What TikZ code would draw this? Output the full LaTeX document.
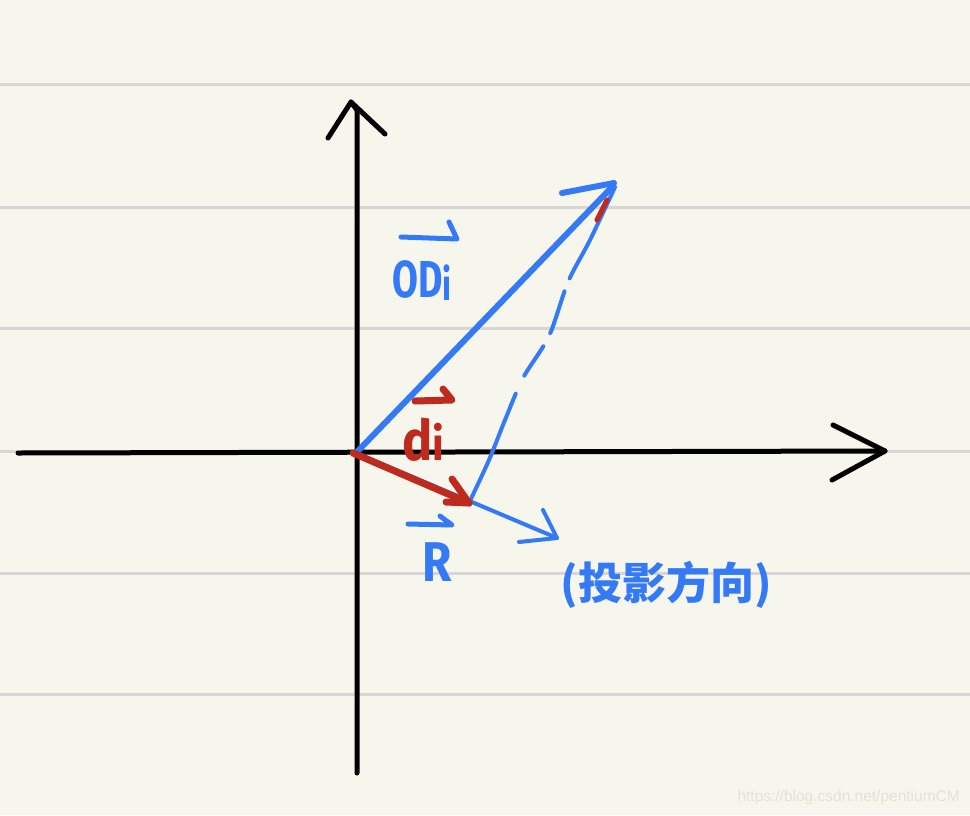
\documentclass[tikz,border=0pt]{standalone}
\usepackage{fontspec}
\setmainfont{Fira Sans}
\newfontfamily\cjk{Noto Sans CJK SC}
\newfontfamily\wmfont{Liberation Sans}
\usetikzlibrary{calc}
\definecolor{paper}{HTML}{F6F6EC}
\definecolor{rulecol}{HTML}{D6D6D2}
\definecolor{pen}{HTML}{3479F5}
\definecolor{redpen}{HTML}{BF2A1E}
\definecolor{wm}{HTML}{E2E2DA}
\begin{document}
\begin{tikzpicture}[x=1pt,y=-1pt,
  ruled/.style={rulecol,line width=3pt},
  axis/.style={black,line width=5pt,line cap=round,line join=round},
  bluepen/.style={pen,line cap=round,line join=round},
  redstroke/.style={redpen,line cap=round,line join=round},
  lbl/.style={inner sep=0pt,anchor=center}]
\fill[paper] (0,0) rectangle (970,815);
\useasboundingbox (0,0) rectangle (970,815);
% ruled paper
\foreach \yy in {84,207,328,451,573,694} \draw[ruled] (0,\yy) -- (970,\yy);
% coordinates
\coordinate (O) at (356,453);
\coordinate (yTop) at (351,102);
\coordinate (yBot) at (357,773);
\coordinate (xL) at (18,453);
\coordinate (xR) at (885,451);
\coordinate (D) at (612,187);
\coordinate (Dtip) at (614,183);
\coordinate (Dd) at (615,187);
\coordinate (P) at (469,503);
\coordinate (Rtip) at (557,538);
% axes
\draw[axis] (yBot) -- (357,110) -- (yTop);
\draw[axis] (328,138) -- (yTop) -- (385,134);
\draw[axis] (xL) -- (xR);
\draw[axis] (833,425) -- (xR) -- (832,480);
% projection direction R
\draw[bluepen,line width=4pt] (O) -- (Rtip);
\draw[bluepen,line width=4pt] (543,510) -- (Rtip) -- (519,542);
% dashed projection line
\draw[bluepen,line width=4pt,dash pattern=on 102pt off 14pt on 44pt off 15pt on 35pt off 20pt on 300pt]
  plot[smooth,tension=0.5] coordinates {(Dd) (590,240) (568,282) (549,336) (523,378) (505,420) (489,460) (P)};
% vector OD_i
\draw[bluepen,line width=6pt] (O) -- (D);
\draw[bluepen,line width=6pt] (562,193) -- (Dtip);
% red mark near tip
\draw[redstroke,line width=5pt] (597,220) -- (607,200);
% vector d_i
\draw[redstroke,line width=7pt] (353,453) -- (P);
\draw[redstroke,line width=7pt] (452,479) -- (P) -- (446,502);
% labels
\node[lbl,pen] (odl) at (422,281) {\scalebox{0.72}[1]{\fontsize{52}{52}\selectfont\bfseries OD\raisebox{-3pt}{\fontsize{44}{44}\selectfont i}}};
\draw[bluepen,line width=5pt] (401,237) -- (457,239) -- (449,222);
\node[lbl,redpen] (dil) at (423,440) {\scalebox{0.9}[1]{\fontsize{56}{56}\selectfont\bfseries d\fontsize{46}{46}\selectfont i}};
\draw[redstroke,line width=7pt] (415,401) -- (452,400) -- (443,389);
\node[lbl,pen] (rl) at (437,562) {\scalebox{0.85}[1]{\fontsize{56}{56}\selectfont\bfseries R}};
\draw[bluepen,line width=5pt] (408,524) -- (452,525) -- (440,516);
\node[lbl,pen] (proj) at (666,585) {\cjk\fontsize{44}{44}\selectfont\bfseries (投影方向)};
\node[lbl,wm,anchor=east] (wmk) at (960,797) {\wmfont\fontsize{15.5}{15.5}\selectfont https://blog.csdn.net/pentiumCM};
\end{tikzpicture}
\end{document}
